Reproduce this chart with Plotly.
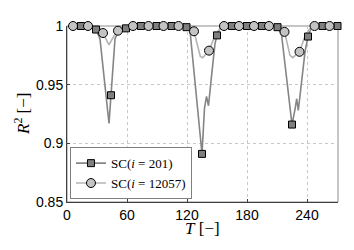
import plotly.graph_objects as go

# Marker positions (T) and values (R^2)
sq_T = [14, 29, 44, 59, 74, 89.5, 104.5, 119.5, 135, 150, 165, 180, 195, 210.5, 225, 241, 255.5, 270.5]
sq_R = [1, 0.997, 0.941, 0.998, 1, 1, 1, 0.999, 0.891, 0.992, 1, 1, 1, 0.999, 0.916, 0.991, 1, 1]

circ_T = [6, 21, 36, 51, 66, 81.5, 96.5, 111.5, 127, 142, 157, 172, 187, 202, 217.5, 232.5, 247.5, 262.5]
circ_R = [1, 1, 0.994, 0.996, 1, 1, 1, 1, 0.9955, 0.979, 1, 1, 1, 1, 0.995, 0.978, 1, 1]

# Line vertices
sq_line_T = [0, 27, 29, 33, 42, 44, 48, 52, 56, 59, 62, 118, 119.5, 123, 135, 137.5, 139.5, 141.5,
             144.5, 148, 150, 154, 208, 210.5, 214.5, 225, 228, 229.7, 231.3, 233.7, 238, 241, 244.5, 271]
sq_line_R = [1, 1, 0.997, 0.989, 0.917, 0.941, 0.989, 0.997, 0.999, 0.998, 1, 1, 0.999, 0.996, 0.891,
             0.93, 0.94, 0.932, 0.957, 0.985, 0.992, 1, 1, 0.999, 0.993, 0.916, 0.929, 0.938, 0.928,
             0.948, 0.978, 0.991, 0.999, 1]

circ_line_T = [0, 30, 33, 36, 42, 48, 51, 55, 123, 127, 133.3, 135.7, 142, 146.7, 151.3, 157,
               213, 217.5, 223, 225.7, 232.5, 237, 242, 247.5, 271]
circ_line_R = [1, 1, 0.998, 0.994, 0.984, 0.993, 0.996, 1, 1, 0.9955, 0.974, 0.973, 0.979, 0.989,
               0.996, 1, 1, 0.995, 0.975, 0.973, 0.978, 0.989, 0.997, 1, 1]

x_ticks = [0, 60, 120, 180, 240]
y_ticks = [0.85, 0.9, 0.95, 1]
y_tick_labels = ["0.85", "0.9", "0.95", "1"]

names = ["SC(<i>i</i> = 201)", "SC(<i>i</i> = 12057)"]
x_title = "<i>T</i> [−]"
y_title = "<i>R</i><sup>2</sup> [−]"

DARK = "#858585"
LIGHT = "#b4b4b4"
SERIF = "Liberation Serif, Times New Roman, serif"

fig = go.Figure()
fig.add_trace(go.Scatter(x=sq_line_T, y=sq_line_R, mode="lines",
                         line=dict(color=DARK, width=1.6), showlegend=False, hoverinfo="skip"))
fig.add_trace(go.Scatter(x=circ_line_T, y=circ_line_R, mode="lines",
                         line=dict(color=LIGHT, width=1.6), showlegend=False, hoverinfo="skip"))
fig.add_trace(go.Scatter(x=sq_T, y=sq_R, mode="markers", name=names[0],
                         marker=dict(symbol="square", size=7, color="#7f7f7f",
                                     line=dict(color="black", width=1)),
                         cliponaxis=False, showlegend=False))
fig.add_trace(go.Scatter(x=circ_T, y=circ_R, mode="markers", name=names[1],
                         marker=dict(symbol="circle", size=9, color="#c3c3c3",
                                     line=dict(color="black", width=1)),
                         cliponaxis=False, showlegend=False))
fig.add_trace(go.Scatter(x=[-10], y=[0], mode="lines+markers", name=names[0],
                         line=dict(color=DARK, width=1.6),
                         marker=dict(symbol="square", size=7, color="#7f7f7f",
                                     line=dict(color="black", width=1))))
fig.add_trace(go.Scatter(x=[-10], y=[0], mode="lines+markers", name=names[1],
                         line=dict(color=LIGHT, width=1.6),
                         marker=dict(symbol="circle", size=9, color="#c3c3c3",
                                     line=dict(color="black", width=1))))

fig.add_shape(type="rect", xref="paper", yref="paper", x0=0, y0=0, x1=1, y1=1,
              line=dict(color="#8c8c8c", width=1), layer="below")

fig.add_annotation(text=x_title, xref="paper", yref="paper", x=0.5, y=-0.15,
                   xanchor="center", yanchor="middle", showarrow=False,
                   font=dict(family=SERIF, size=17))
fig.add_annotation(text=y_title, xref="paper", yref="paper", x=-0.166, y=0.5,
                   xanchor="center", yanchor="middle", showarrow=False, textangle=-90,
                   font=dict(family=SERIF, size=17))

# The page body has an 8px margin, so the figure is placed 8px right/down.
fig.update_layout(
    width=346, height=242,
    margin=dict(l=59, r=16, t=10, b=48),
    paper_bgcolor="white", plot_bgcolor="white",
    font=dict(family="Liberation Sans, Arial, sans-serif", size=14, color="black"),
    legend=dict(x=0.011, y=0.016, xanchor="left", yanchor="bottom",
                bgcolor="white", bordercolor="#808080", borderwidth=1,
                font=dict(family=SERIF, size=13),
                tracegroupgap=0, itemwidth=30),
    xaxis=dict(range=[0, 271], tickvals=x_ticks, ticktext=[str(v) for v in x_ticks],
               showgrid=True, gridcolor="#c8c8c8", griddash="dot", gridwidth=1,
               showline=True, linecolor="#404040", linewidth=1,
               ticks="inside", ticklen=3, tickcolor="#404040", zeroline=False),
    yaxis=dict(range=[0.85, 1.0], tickvals=y_ticks, ticktext=y_tick_labels,
               showgrid=True, gridcolor="#c8c8c8", griddash="dot", gridwidth=1,
               showline=True, linecolor="#404040", linewidth=1,
               ticks="inside", ticklen=3, tickcolor="#404040", zeroline=False),
)

fig.write_html("out.html")
